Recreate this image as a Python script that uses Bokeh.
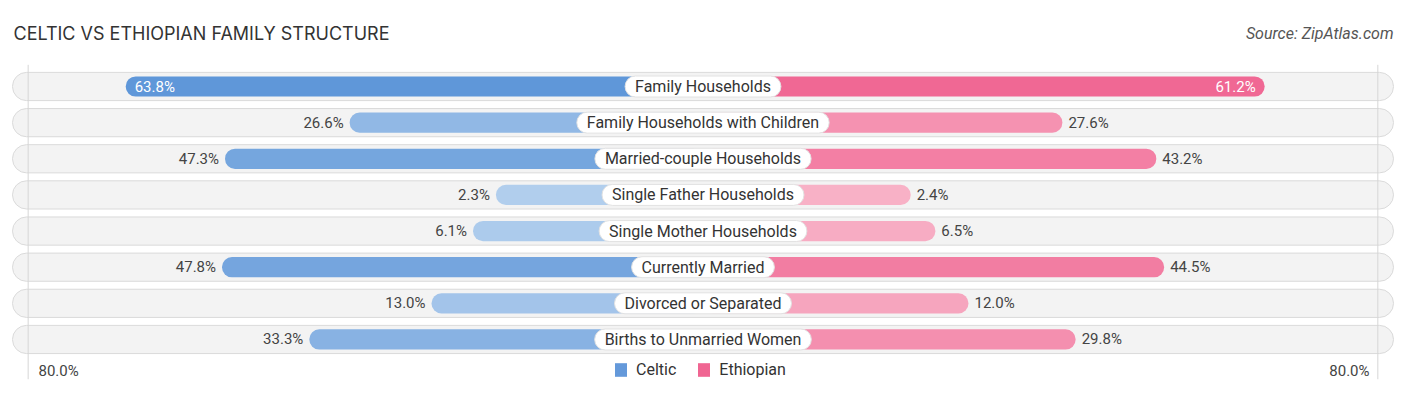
from bokeh.plotting import figure
from bokeh.models import Range1d, Label, Legend, LegendItem, ColumnDataSource
from bokeh.core.properties import value
from bokeh.embed import file_html
from bokeh.resources import INLINE

categories = ["Family Households", "Family Households with Children", "Married-couple Households",
              "Single Father Households", "Single Mother Households", "Currently Married",
              "Divorced or Separated", "Births to Unmarried Women"]
celtic = [63.8, 26.6, 47.3, 2.3, 6.1, 47.8, 13.0, 33.3]
ethiopian = [61.2, 27.6, 43.2, 2.4, 6.5, 44.5, 12.0, 29.8]
axis_max = 80.0

OFF = 32.1  # half-width reserved around the centre for the label
W, H = 1400, 390
PX = 6.02
CX = 702.5
RY = 36.14
Y0 = 86

def mix(c1, c2, t):
    a = [int(c1[i:i + 2], 16) for i in (1, 3, 5)]
    b = [int(c2[i:i + 2], 16) for i in (1, 3, 5)]
    return "#" + "".join("%02x" % round(a[k] + (b[k] - a[k]) * t) for k in range(3))

def col(light, dark, v):
    return mix(light, dark, min(v / 64.0, 1.0))

n = len(categories)
ys = list(range(n))
src = ColumnDataSource(dict(
    y=ys, cat=categories,
    cl=[-(OFF + v) for v in celtic], er=[OFF + v for v in ethiopian],
    ccol=[col("#b4d0ee", "#5f97d9", v) for v in celtic],
    ecol=[col("#f8b4c8", "#f06592", v) for v in ethiopian],
))

p = figure(width=W, height=H, output_backend="svg", toolbar_location=None,
           x_range=Range1d(-CX / PX, (W - CX) / PX),
           y_range=Range1d((H - Y0) / RY, -Y0 / RY),
           min_border=0, outline_line_color=None)
p.xaxis.visible = False
p.yaxis.visible = False
p.grid.visible = False
p.background_fill_color = "white"
p.border_fill_color = "white"

half = 114.7
p.hbar(y="y", left=-half, right=half, height=0.78, source=src, fill_color="#f3f3f3",
       line_color="#dadada", line_width=1, border_radius=14)

for s in (-1, 1):
    p.segment(x0=s * (OFF + axis_max), x1=s * (OFF + axis_max), y0=-0.6, y1=n - 1 + 1.1,
              line_color="#d6d6d6", line_width=1)

p.hbar(y="y", left="cl", right=0, height=0.56, source=src, fill_color="ccol", line_color=None, border_radius=10)
p.hbar(y="y", left=0, right="er", height=0.56, source=src, fill_color="ecol", line_color=None, border_radius=10)

# value labels
inside = [0]
out_idx = [i for i in range(n) if i not in inside]
o = ColumnDataSource(dict(y=[ys[i] for i in out_idx], cl=[-(OFF + celtic[i]) for i in out_idx],
                          er=[OFF + ethiopian[i] for i in out_idx],
                          ct=["%.1f%%" % celtic[i] for i in out_idx], et=["%.1f%%" % ethiopian[i] for i in out_idx]))
p.text(x="cl", y="y", text="ct", source=o, x_offset=-6, text_align="right", text_baseline="middle",
       text_font=value("Roboto"), text_font_size="15px", text_color="#444444")
p.text(x="er", y="y", text="et", source=o, x_offset=6, text_align="left", text_baseline="middle",
       text_font=value("Roboto"), text_font_size="15px", text_color="#444444")
ii = ColumnDataSource(dict(y=[ys[i] for i in inside], cl=[-(OFF + celtic[i]) for i in inside],
                           er=[OFF + ethiopian[i] for i in inside],
                           ct=["%.1f%%" % celtic[i] for i in inside], et=["%.1f%%" % ethiopian[i] for i in inside]))
p.text(x="cl", y="y", text="ct", source=ii, x_offset=9, text_align="left", text_baseline="middle",
       text_font=value("Roboto"), text_font_size="15px", text_color="white")
p.text(x="er", y="y", text="et", source=ii, x_offset=-9, text_align="right", text_baseline="middle",
       text_font=value("Roboto"), text_font_size="15px", text_color="white")

# category labels in white pills
p.text(x=0, y="y", text="cat", source=src, text_align="center", text_baseline="middle",
       text_font=value("Roboto"), text_font_size="16px", text_color="#333333",
       background_fill_color="white", padding=(10, 10, 1, 1), border_radius=11,
       border_line_color="#e2e2e2")

p.add_layout(Label(x=13, y=H - 33, x_units="screen", y_units="screen", text="CELTIC VS ETHIOPIAN FAMILY STRUCTURE",
                   text_font="Inter", text_font_size="18px", text_color="#333333", text_baseline="middle"))
p.add_layout(Label(x=1393, y=H - 33, x_units="screen", y_units="screen", text="Source: ZipAtlas.com",
                   text_font="Roboto", text_font_style="italic", text_font_size="16px", text_color="#555555",
                   text_align="right", text_baseline="middle"))
p.add_layout(Label(x=38, y=H - 370, x_units="screen", y_units="screen", text="%.1f%%" % axis_max,
                   text_font="Roboto", text_font_size="15px", text_color="#444444", text_baseline="middle"))
p.add_layout(Label(x=1369, y=H - 370, x_units="screen", y_units="screen", text="%.1f%%" % axis_max,
                   text_font="Roboto", text_font_size="15px", text_color="#444444", text_baseline="middle",
                   text_align="right"))

lc = p.quad(left=[0], right=[0], top=[0], bottom=[0], fill_color="#6499da", line_color=None, visible=False)
le = p.quad(left=[0], right=[0], top=[0], bottom=[0], fill_color="#f06592", line_color=None, visible=False)
leg = Legend(items=[LegendItem(label="Celtic", renderers=[lc]), LegendItem(label="Ethiopian", renderers=[le])],
             orientation="horizontal", location=(613, H - 379), border_line_alpha=0, background_fill_alpha=0,
             padding=0, margin=0, spacing=20, glyph_width=15, glyph_height=17, label_standoff=8,
             label_text_font="Roboto", label_text_font_size="16px", label_text_color="#333333")
p.add_layout(leg)

open("out.html", "w").write(file_html(p, INLINE))
